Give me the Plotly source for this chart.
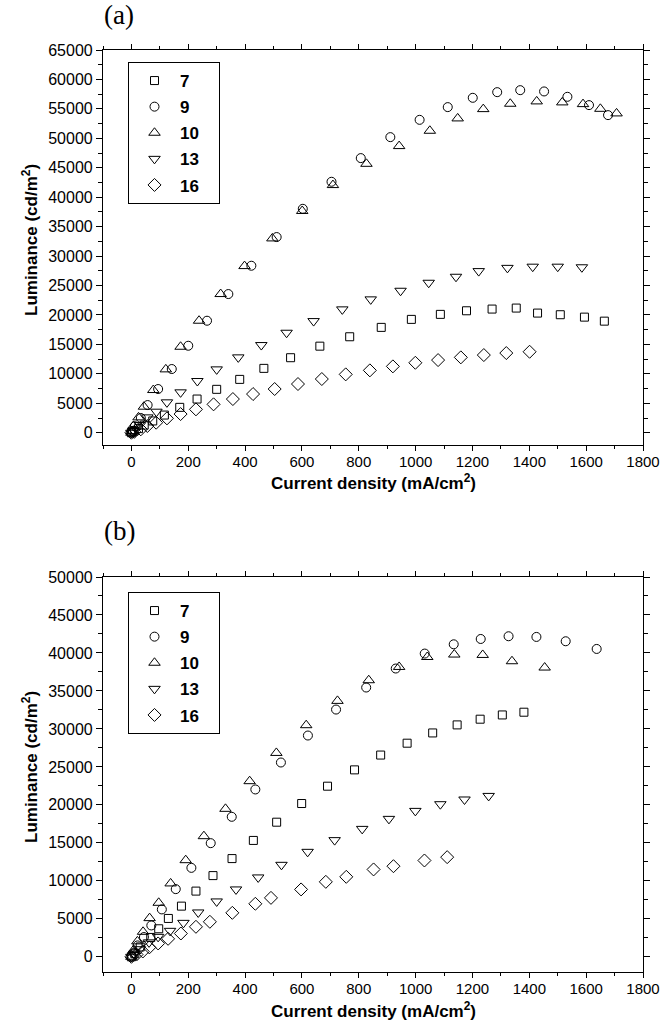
import plotly.graph_objects as go

# ---------- Panel (a) data ----------
a7_x = [0, 10, 25, 45, 75, 116, 170, 231, 300, 381, 466, 560, 663, 768, 879, 985, 1087, 1179, 1269, 1354, 1429, 1509, 1594, 1664]
a7_y = [0, 300, 700, 1300, 2000, 3000, 4310, 5720, 7370, 9060, 10930, 12740, 14700, 16300, 17890, 19250, 20100, 20710, 21000, 21170, 20320, 20040, 19630, 18950]

a9_x = [0, 5, 12, 33, 57, 94, 142, 200, 266, 341, 422, 511, 603, 704, 807, 911, 1014, 1113, 1201, 1287, 1368, 1452, 1534, 1610, 1677]
a9_y = [0, 300, 1100, 2500, 4700, 7420, 10820, 14770, 19020, 23550, 28360, 33230, 38030, 42620, 46640, 50200, 53140, 55300, 56880, 57840, 58180, 57960, 57050, 55640, 53940]

a10_x = [0, 3, 7, 25, 44, 77, 121, 173, 238, 314, 398, 496, 601, 709, 827, 942, 1050, 1148, 1238, 1333, 1426, 1516, 1589, 1650, 1707]
a10_y = [0, 300, 1140, 2610, 4420, 7250, 10760, 14600, 19020, 23550, 28300, 33000, 37660, 42060, 45670, 48680, 51280, 53380, 54960, 55870, 56270, 56100, 55810, 55010, 54230]

a13_x = [0, 8, 30, 56, 88, 125, 173, 232, 300, 376, 457, 546, 641, 742, 842, 947, 1046, 1142, 1222, 1323, 1412, 1500, 1585]
a13_y = [0, 400, 1300, 2610, 3570, 5160, 6860, 8780, 10760, 12800, 14890, 16980, 18960, 20950, 22650, 24110, 25470, 26490, 27450, 28000, 28200, 28200, 28100]

a16_x = [0, 10, 33, 56, 87, 125, 173, 227, 289, 357, 428, 504, 586, 670, 754, 839, 920, 999, 1079, 1159, 1240, 1319, 1401]
a16_y = [0, 150, 580, 1140, 1700, 2440, 3170, 3970, 4820, 5720, 6570, 7420, 8270, 9120, 9910, 10590, 11270, 11880, 12340, 12800, 13190, 13530, 13750]

# ---------- Panel (b) data ----------
b7_x = [0, 12, 31, 68, 96, 130, 176, 227, 287, 354, 429, 511, 599, 690, 785, 877, 970, 1060, 1146, 1227, 1305, 1381]
b7_y = [0, 400, 1300, 2550, 3690, 5050, 6670, 8650, 10690, 12930, 15320, 17720, 20180, 22460, 24610, 26560, 28120, 29470, 30530, 31280, 31840, 32200]

b9_x = [0, 8, 22, 44, 70, 107, 156, 211, 279, 353, 436, 526, 621, 720, 826, 930, 1032, 1134, 1229, 1327, 1425, 1528, 1637]
b9_y = [0, 500, 1500, 2600, 4130, 6240, 8910, 11710, 14960, 18430, 22030, 25580, 29130, 32550, 35450, 37950, 39920, 41140, 41840, 42200, 42110, 41540, 40530]

b10_x = [0, 8, 21, 41, 64, 96, 138, 191, 255, 331, 416, 510, 615, 725, 835, 942, 1041, 1136, 1236, 1339, 1454]
b10_y = [0, 900, 2030, 3290, 5090, 7110, 9660, 12720, 15880, 19480, 23120, 26840, 30490, 33690, 36410, 38160, 39470, 39790, 39740, 38910, 38080]

b13_x = [0, 10, 30, 62, 94, 136, 183, 235, 300, 368, 446, 528, 620, 715, 812, 906, 999, 1087, 1172, 1257]
b13_y = [0, 400, 1000, 1900, 2630, 3420, 4470, 5840, 7290, 8870, 10450, 12110, 13820, 15360, 16840, 18160, 19210, 20090, 20710, 21180]

b16_x = [0, 18, 40, 63, 94, 129, 174, 227, 276, 355, 436, 491, 597, 684, 756, 852, 922, 1031, 1111]
b16_y = [0, 300, 700, 1240, 1760, 2370, 3070, 3950, 4610, 5790, 6980, 7760, 8870, 9870, 10530, 11500, 11930, 12680, 13120]

labels = ["7", "9", "10", "13", "16"]
symbols = ["square-open", "circle-open", "triangle-up-open", "triangle-down-open", "diamond-open"]
sizes = [8, 9, 10, 10, 10]

x_tickvals = [0, 200, 400, 600, 800, 1000, 1200, 1400, 1600, 1800]
x_title = "<b>Current density (mA/cm<sup>2</sup>)</b>"
y_title = "<b>Luminance (cd/m<sup>2</sup>)</b>"

panel_a = [(a7_x, a7_y), (a9_x, a9_y), (a10_x, a10_y), (a13_x, a13_y), (a16_x, a16_y)]
panel_b = [(b7_x, b7_y), (b9_x, b9_y), (b10_x, b10_y), (b13_x, b13_y), (b16_x, b16_y)]

PAD = "\u00a0\u00a0\u00a0"

fig = go.Figure()

for i, (xs, ys) in enumerate(panel_a):
    fig.add_trace(go.Scatter(
        x=xs, y=ys, mode="markers", name="<b>" + labels[i] + "</b>" + PAD,
        marker=dict(symbol=symbols[i], size=sizes[i], color="black", line=dict(width=1, color="black")),
        xaxis="x", yaxis="y", legend="legend", legendgroup="a" + labels[i]))

for i, (xs, ys) in enumerate(panel_b):
    fig.add_trace(go.Scatter(
        x=xs, y=ys, mode="markers", name="<b>" + labels[i] + "</b>" + PAD,
        marker=dict(symbol=symbols[i], size=sizes[i], color="black", line=dict(width=1, color="black")),
        xaxis="x2", yaxis="y2", legend="legend2", legendgroup="b" + labels[i]))

W, H = 663, 1036

def fx(px):
    return px / W

def fy(py):
    return 1 - py / H

FONT = "Liberation Sans, Arial, sans-serif"
tickfont = dict(family=FONT, size=16, color="black")

common_axis = dict(
    showline=True, linecolor="black", linewidth=1.2, mirror="ticks",
    ticks="outside", ticklen=6, tickwidth=1, tickcolor="black",
    showgrid=False, zeroline=False, tickfont=tickfont, automargin=False,
)

xaxis_common = dict(common_axis, range=[-100, 1800], tickvals=x_tickvals, ticklen=5,
                    tickfont=dict(family=FONT, size=15, color="black"), ticklabelstandoff=-2,
                    minor=dict(dtick=100, tick0=0, ticklen=3, tickcolor="black", ticks="outside"))

yminor = dict(dtick=2500, ticklen=4, tickcolor="black", ticks="outside")

legend_common = dict(xanchor="left", yanchor="top",
                     bordercolor="black", borderwidth=1, bgcolor="white",
                     font=dict(family=FONT, size=17, color="black"),
                     traceorder="grouped", tracegroupgap=1, itemwidth=41)

def ann(text, x, y, size=17, angle=0, family=FONT):
    return dict(text=text, x=fx(x), y=fy(y), xref="paper", yref="paper",
                xanchor="center", yanchor="middle", showarrow=False, textangle=angle,
                font=dict(family=family, size=size, color="black"))

fig.update_layout(
    width=W, height=H,
    margin=dict(l=0, r=0, t=0, b=0, autoexpand=False),
    paper_bgcolor="white", plot_bgcolor="white",
    xaxis=dict(xaxis_common, domain=[fx(103), fx(643)], anchor="y"),
    yaxis=dict(common_axis, domain=[fy(444.5), fy(50)], anchor="x", range=[-2000, 65000], dtick=5000, tick0=0,
               tickformat="d", minor=yminor),
    xaxis2=dict(xaxis_common, domain=[fx(103), fx(643)], anchor="y2"),
    yaxis2=dict(common_axis, domain=[fy(972), fy(577)], anchor="x2", range=[-2000, 50000], dtick=5000, tick0=0,
                tickformat="d", minor=yminor),
    legend=dict(legend_common, x=fx(128), y=fy(62)),
    legend2=dict(legend_common, x=fx(128), y=fy(592)),
    showlegend=True,
    annotations=[
        ann("(a)", 119, 15, size=27, family="Liberation Serif, Times New Roman, serif"),
        ann("(b)", 119, 531, size=27, family="Liberation Serif, Times New Roman, serif"),
        ann(x_title, 373, 482),
        ann(x_title, 373, 1010),
        ann(y_title, 30, 240, angle=-90),
        ann(y_title, 30, 767, angle=-90),
    ],
)

fig.write_html("out.html", config={"displayModeBar": False},
               post_script="document.body.style.margin='0px';document.body.style.padding='0px';")
